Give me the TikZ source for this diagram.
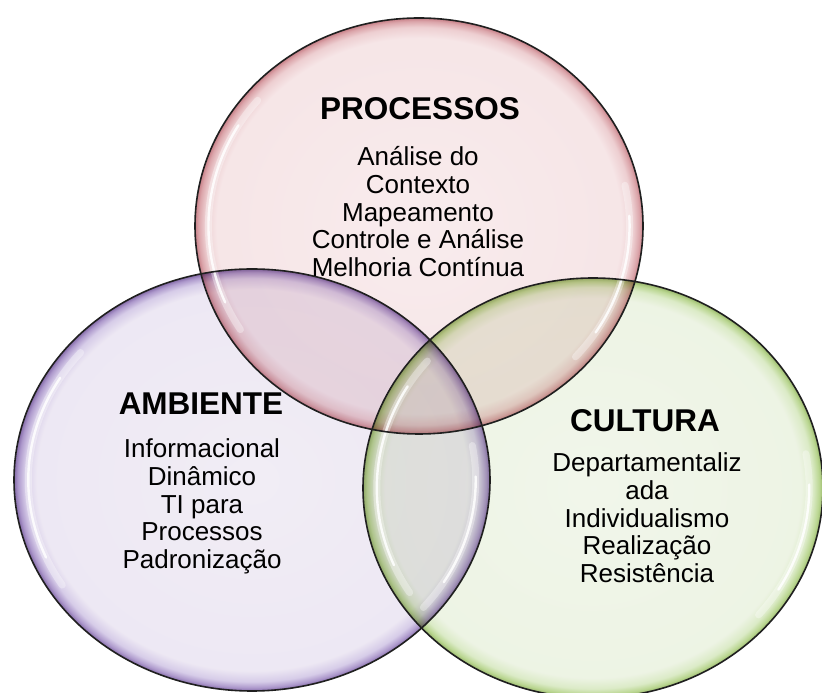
\documentclass[tikz,border=0pt]{standalone}
\usepackage{fontspec}
\setmainfont{Liberation Sans}
\usetikzlibrary{calc}

% glossy sphere-like fills: pale centre, darker rim
% (a shaded path covers the central 50bp square, so the rim sits at 25bp)
\pgfdeclareradialshading{rosesphere}{\pgfpoint{0bp}{0bp}}{%
  rgb(0bp)=(0.975,0.925,0.93); rgb(22.6bp)=(0.965,0.90,0.905);
  rgb(23.9bp)=(0.93,0.81,0.82); rgb(24.6bp)=(0.86,0.65,0.67);
  rgb(25bp)=(0.78,0.50,0.53); rgb(50bp)=(0.78,0.50,0.53)}
\pgfdeclareradialshading{lilacsphere}{\pgfpoint{0bp}{0bp}}{%
  rgb(0bp)=(0.945,0.93,0.96); rgb(22.6bp)=(0.93,0.91,0.955);
  rgb(23.9bp)=(0.84,0.80,0.91); rgb(24.6bp)=(0.68,0.60,0.80);
  rgb(25bp)=(0.52,0.42,0.66); rgb(50bp)=(0.52,0.42,0.66)}
\pgfdeclareradialshading{leafsphere}{\pgfpoint{0bp}{0bp}}{%
  rgb(0bp)=(0.945,0.965,0.92); rgb(22.6bp)=(0.93,0.955,0.895);
  rgb(23.9bp)=(0.86,0.92,0.78); rgb(24.6bp)=(0.73,0.84,0.57);
  rgb(25bp)=(0.60,0.72,0.42); rgb(50bp)=(0.60,0.72,0.42)}

\tikzset{
  ring/.style={draw=black!88, line width=1.6pt},
  title/.style={font=\fontsize{31.5}{33}\selectfont\bfseries, anchor=base, inner sep=0pt},
  body/.style={font=\fontsize{26}{27.5}\selectfont, anchor=base, inner sep=0pt},
}

% soft white reflection along the inside of a ring
% #1,#2 centre  #3,#4 radii  #5,#6 start/end angle
\newcommand\glint[6]{%
  \foreach \w/\o/\s in {7/0.35/0, 2.4/0.85/9}{%
    \draw[white, line width=\w pt, opacity=\o, line cap=round, blend mode=normal]
      ($(#1,#2)+({#5+\s}:{#3*0.94} and {#4*0.94})$)
      arc[start angle={#5+\s}, end angle={#6-\s},
          x radius={#3*0.94}, y radius={#4*0.94}];
  }%
}

\begin{document}
\begin{tikzpicture}[x=1pt, y=1pt]
  \useasboundingbox (0,0) rectangle (822,693);
  \fill[white] (0,0) rectangle (822,693);

  % coloured discs, overlaps darkened by multiplying
  \shade[shading=rosesphere, blend mode=multiply]  (419,467) ellipse [x radius=224, y radius=208];
  \shade[shading=lilacsphere, blend mode=multiply] (252,213) ellipse [x radius=238, y radius=211];
  \shade[shading=leafsphere, blend mode=multiply]  (593,205) ellipse [x radius=230, y radius=210];

  % reflections
  \glint{419}{467}{224}{208}{140}{212}
  \glint{419}{467}{224}{208}{-42}{12}
  \glint{252}{213}{238}{211}{140}{212}
  \glint{252}{213}{238}{211}{-40}{10}
  \glint{593}{205}{230}{210}{140}{212}
  \glint{593}{205}{230}{210}{-40}{10}

  % outlines
  \begin{scope}[blend mode=normal]
    \draw[ring] (419,467) ellipse [x radius=224, y radius=208];
    \draw[ring] (252,213) ellipse [x radius=238, y radius=211];
    \draw[ring] (593,205) ellipse [x radius=230, y radius=210];
  \end{scope}

  % PROCESSOS
  \node[title] (proc) at (420,573) {PROCESSOS};
  \foreach \t [count=\i from 0] in {Análise do, Contexto, Mapeamento,
      Controle e Análise, Melhoria Contínua}
    \node[body] (proc\i) at (418,527-27.6*\i) {\t};

  % AMBIENTE
  \node[title] (amb) at (201,278) {AMBIENTE};
  \foreach \t [count=\i from 0] in {Informacional, Dinâmico, TI para,
      Processos, Padronização}
    \node[body] (amb\i) at (202,235-27.6*\i) {\t};

  % CULTURA
  \node[title] (cult) at (645,261) {CULTURA};
  \foreach \t [count=\i from 0] in {Departamentaliz, ada, Individualismo,
      Realização, Resistência}
    \node[body] (cult\i) at (647,221-27.6*\i) {\t};
\end{tikzpicture}
\end{document}
